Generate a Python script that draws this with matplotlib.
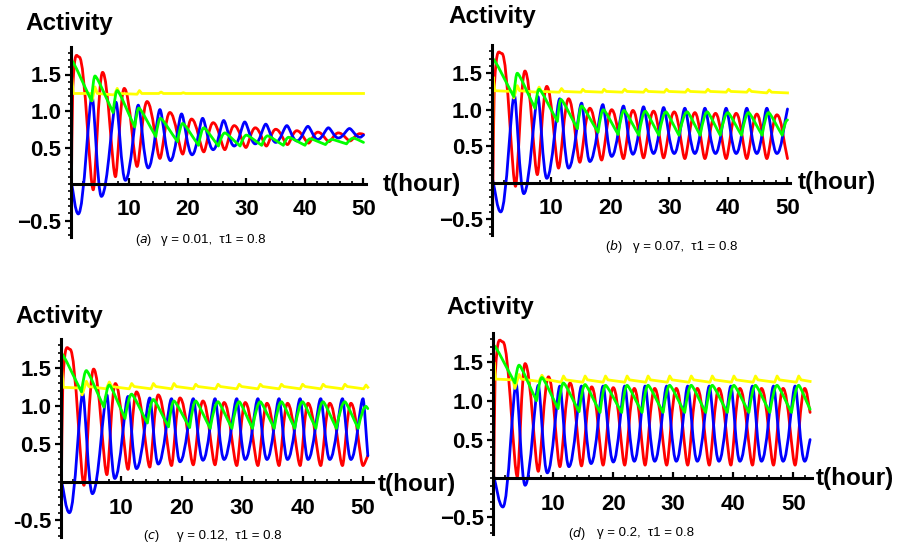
import matplotlib
matplotlib.use("Agg")
import matplotlib.pyplot as plt
from matplotlib.path import Path
from matplotlib.patches import PathPatch
from matplotlib.ticker import FixedLocator, MultipleLocator

plt.rcParams['font.family'] = ['Liberation Sans', 'DejaVu Sans']
plt.rcParams['mathtext.fontset'] = 'dejavusans'

# ---------------- data: (t, activity) turning points ----------------
# panel (a)  gamma = 0.01
red_a = [(0, -0.6), (0.3, 1.3), (1.4, 1.74), (3.8, -0.08), (5.4, 1.53), (7.6, 0.10), (9.1, 1.31),
         (11.3, 0.24), (13.0, 1.13), (15.2, 0.35), (16.9, 0.98), (19.1, 0.41), (20.6, 0.89),
         (22.7, 0.44), (24.3, 0.84), (26.3, 0.47), (27.9, 0.80), (29.9, 0.50), (31.5, 0.77),
         (33.4, 0.52), (35.0, 0.75), (37.0, 0.54), (38.6, 0.73), (40.6, 0.56), (42.2, 0.71),
         (44.1, 0.58), (45.7, 0.70), (47.7, 0.59), (49.4, 0.69), (50.0, 0.68)]
blue_a = [(0, 0.05), (1.25, -0.41), (3.6, 1.20), (5.2, -0.17), (7.7, 1.12), (9.3, 0.05), (11.5, 1.08),
          (13.2, 0.22), (15.2, 1.02), (17.0, 0.32), (18.9, 0.96), (20.7, 0.40), (22.5, 0.90),
          (24.3, 0.47), (26.1, 0.87), (27.9, 0.52), (29.7, 0.85), (31.5, 0.55), (33.3, 0.82),
          (35.0, 0.57), (36.9, 0.80), (38.6, 0.59), (40.5, 0.79), (42.2, 0.61), (44.0, 0.77),
          (45.7, 0.63), (47.6, 0.76), (49.4, 0.64), (50.0, 0.67)]
green_a = [(0, 1.70), (3.5, 1.14), (4.1, 1.48), (7.2, 0.98), (7.9, 1.28), (10.9, 0.78), (11.6, 1.04),
           (14.5, 0.65), (15.3, 0.90), (18.2, 0.58), (19.1, 0.83), (21.8, 0.53), (22.7, 0.77),
           (25.2, 0.52), (26.3, 0.70), (28.9, 0.52), (30.0, 0.67), (32.6, 0.53), (33.6, 0.66),
           (36.3, 0.53), (37.2, 0.64), (40.0, 0.53), (40.9, 0.62), (43.5, 0.54), (44.6, 0.61),
           (47.1, 0.55), (48.3, 0.63), (50.0, 0.57)]
yellow_a = [(0, 0.0), (0.1, 1.48), (0.4, 1.24), (3.3, 1.24), (3.6, 1.14), (4.1, 1.33), (4.5, 1.24),
            (7.4, 1.22), (7.9, 1.31), (8.3, 1.24), (11.3, 1.23), (11.7, 1.28), (12.1, 1.24),
            (15.0, 1.24), (15.4, 1.26), (15.8, 1.24), (18.8, 1.24), (19.2, 1.25), (19.6, 1.24),
            (50.0, 1.24)]

# panel (b)  gamma = 0.07
red_b = [(0, -0.6), (0.3, 1.3), (1.6, 1.77), (3.9, -0.05), (5.5, 1.53), (7.6, 0.11), (9.2, 1.32),
         (11.2, 0.20), (12.9, 1.15), (14.8, 0.28), (16.5, 1.02), (18.5, 0.31), (20.2, 1.00),
         (22.2, 0.33), (23.8, 0.99), (25.6, 0.34), (27.3, 0.98), (29.0, 0.34), (30.8, 0.97),
         (32.6, 0.33), (34.3, 0.96), (36.0, 0.33), (37.8, 0.95), (39.6, 0.33), (41.3, 0.95),
         (43.1, 0.33), (44.8, 0.94), (46.5, 0.33), (48.2, 0.93), (50.0, 0.33)]
blue_b = [(0, 0.05), (1.4, -0.40), (3.7, 1.20), (5.3, -0.15), (7.7, 1.18), (9.2, 0.06), (11.4, 1.15),
          (12.9, 0.20), (15.1, 1.09), (16.5, 0.29), (18.7, 1.07), (20.2, 0.36), (22.2, 1.05),
          (23.8, 0.39), (25.6, 1.04), (27.3, 0.40), (29.0, 1.03), (30.8, 0.40), (32.6, 1.02),
          (34.3, 0.40), (36.0, 1.02), (37.8, 0.40), (39.6, 1.02), (41.3, 0.40), (43.1, 1.02),
          (44.8, 0.40), (46.5, 1.02), (48.2, 0.40), (50.0, 1.01)]
green_b = [(0, 1.70), (3.6, 1.18), (4.2, 1.50), (7.2, 1.02), (7.9, 1.28), (11.0, 0.84), (11.6, 1.14),
           (14.4, 0.74), (15.1, 1.05), (17.9, 0.69), (18.8, 1.00), (21.3, 0.66), (22.3, 0.99),
           (24.8, 0.65), (25.9, 0.98), (28.2, 0.65), (29.4, 0.97), (31.6, 0.65), (33.0, 0.97),
           (35.2, 0.65), (36.4, 0.97), (38.6, 0.65), (39.9, 0.96), (42.2, 0.65), (43.4, 0.96),
           (45.7, 0.65), (46.8, 0.96), (49.1, 0.65), (50.0, 0.86)]
yellow_b = [(0, 0.0), (0.1, 1.45), (0.4, 1.26), (3.3, 1.25), (3.6, 1.16), (4.2, 1.33), (4.6, 1.26),
            (7.5, 1.24), (7.9, 1.31), (8.3, 1.25), (11.3, 1.24), (11.7, 1.29), (12.1, 1.25),
            (15.0, 1.24), (15.3, 1.28), (15.7, 1.25), (18.6, 1.24), (18.9, 1.28), (19.3, 1.25),
            (22.0, 1.24), (22.4, 1.28), (22.8, 1.25), (25.6, 1.24), (26.0, 1.28), (26.4, 1.25),
            (29.1, 1.24), (29.5, 1.28), (29.9, 1.25), (32.7, 1.24), (33.1, 1.28), (33.5, 1.25),
            (36.1, 1.24), (36.5, 1.28), (36.9, 1.25), (39.6, 1.24), (40.0, 1.28), (40.4, 1.25),
            (43.1, 1.24), (43.5, 1.28), (43.9, 1.25), (46.5, 1.23), (46.9, 1.27), (47.3, 1.24),
            (50.0, 1.23)]

# panel (c)  gamma = 0.12
red_c = [(0, -0.6), (0.3, 1.3), (1.5, 1.75), (3.8, -0.04), (5.4, 1.49), (7.6, 0.10), (9.0, 1.30),
         (11.1, 0.17), (12.5, 1.19), (14.7, 0.20), (16.1, 1.15), (18.3, 0.22), (19.7, 1.11),
         (21.9, 0.23), (23.5, 1.07), (25.5, 0.23), (27.0, 1.05), (29.1, 0.22), (30.5, 1.05),
         (32.6, 0.22), (34.1, 1.04), (36.1, 0.22), (37.5, 1.04), (39.6, 0.22), (40.9, 1.04),
         (43.0, 0.22), (44.5, 1.04), (46.6, 0.22), (48.0, 1.04), (50.0, 0.22), (50.8, 0.35)]
blue_c = [(0, 0.05), (1.4, -0.40), (3.6, 1.17), (5.2, -0.15), (7.6, 1.15), (8.9, 0.05), (11.1, 1.13),
          (12.5, 0.18), (14.7, 1.11), (16.1, 0.24), (18.3, 1.10), (19.7, 0.27), (21.9, 1.10),
          (23.5, 0.29), (25.5, 1.10), (27.0, 0.30), (29.1, 1.10), (30.5, 0.30), (32.6, 1.10),
          (34.1, 0.30), (36.1, 1.10), (37.5, 0.30), (39.6, 1.10), (40.9, 0.30), (43.0, 1.10),
          (44.5, 0.30), (46.6, 1.10), (48.0, 0.30), (50.0, 1.10), (50.8, 0.35)]
green_c = [(0, 1.70), (3.4, 1.19), (4.2, 1.47), (7.1, 0.99), (8.0, 1.28), (10.6, 0.84), (11.7, 1.16),
           (14.3, 0.78), (15.3, 1.09), (17.8, 0.73), (18.7, 1.07), (21.3, 0.72), (22.3, 1.07),
           (24.7, 0.71), (26.0, 1.06), (28.3, 0.71), (29.5, 1.06), (31.7, 0.71), (33.0, 1.06),
           (35.3, 0.71), (36.5, 1.06), (38.7, 0.71), (40.0, 1.06), (42.2, 0.71), (43.4, 1.06),
           (45.6, 0.71), (47.0, 1.06), (49.2, 0.71), (50.5, 1.00), (50.8, 0.97)]
yellow_c = [(0, 0.0), (0.1, 1.50), (0.4, 1.25), (3.2, 1.24), (3.5, 1.15), (4.2, 1.33), (4.6, 1.26),
            (7.5, 1.23), (8.0, 1.32), (8.4, 1.26), (11.3, 1.23), (11.7, 1.30), (12.1, 1.26),
            (14.9, 1.23), (15.3, 1.30), (15.7, 1.26), (18.3, 1.23), (18.7, 1.30), (19.1, 1.26),
            (21.9, 1.23), (22.3, 1.29), (22.7, 1.26), (25.6, 1.23), (26.0, 1.29), (26.4, 1.26),
            (29.1, 1.23), (29.5, 1.29), (29.9, 1.26), (32.6, 1.23), (33.0, 1.29), (33.4, 1.26),
            (36.1, 1.23), (36.5, 1.29), (36.9, 1.26), (39.6, 1.23), (40.0, 1.29), (40.4, 1.26),
            (43.0, 1.23), (43.4, 1.29), (43.8, 1.26), (46.6, 1.23), (47.0, 1.29), (47.4, 1.26),
            (50.1, 1.23), (50.5, 1.28), (50.8, 1.25)]

# panel (d)  gamma = 0.2
red_d = [(0, -0.6), (0.3, 1.3), (1.6, 1.76), (4.0, 0.02), (5.3, 1.48), (7.5, 0.09), (9.2, 1.31),
         (11.1, 0.15), (12.8, 1.23), (14.7, 0.16), (16.4, 1.18), (18.3, 0.17), (20.0, 1.17),
         (21.9, 0.17), (23.5, 1.16), (25.3, 0.17), (26.9, 1.16), (28.9, 0.17), (30.5, 1.16),
         (32.4, 0.17), (34.0, 1.16), (36.0, 0.17), (37.6, 1.16), (39.6, 0.17), (41.1, 1.16),
         (43.2, 0.17), (44.7, 1.16), (46.7, 0.17), (48.3, 1.16), (50.3, 0.17), (51.9, 1.16),
         (52.8, 0.85)]
blue_d = [(0, 0.05), (1.6, -0.37), (3.8, 1.22), (5.3, -0.09), (7.5, 1.20), (9.0, 0.07), (11.1, 1.19),
          (12.6, 0.15), (14.7, 1.19), (16.3, 0.19), (18.3, 1.19), (20.0, 0.21), (21.9, 1.19),
          (23.5, 0.22), (25.3, 1.19), (26.9, 0.22), (28.9, 1.19), (30.5, 0.22), (32.4, 1.19),
          (34.0, 0.22), (36.0, 1.19), (37.6, 0.22), (39.6, 1.19), (41.1, 0.22), (43.2, 1.19),
          (44.7, 0.22), (46.7, 1.19), (48.3, 0.22), (50.3, 1.19), (51.9, 0.22), (52.8, 0.50)]
green_d = [(0, 1.72), (3.6, 1.23), (4.3, 1.46), (7.2, 1.00), (8.1, 1.30), (10.8, 0.90), (11.7, 1.23),
           (14.3, 0.86), (15.3, 1.21), (17.8, 0.85), (18.7, 1.20), (21.4, 0.85), (22.3, 1.20),
           (24.8, 0.85), (25.8, 1.20), (28.3, 0.85), (29.4, 1.20), (31.9, 0.85), (33.0, 1.20),
           (35.4, 0.85), (36.5, 1.20), (39.0, 0.85), (40.1, 1.20), (42.6, 0.85), (43.7, 1.20),
           (46.1, 0.85), (47.3, 1.20), (49.7, 0.85), (50.9, 1.20), (52.8, 0.89)]
yellow_d = [(0, 0.0), (0.1, 1.50), (0.4, 1.28), (3.3, 1.27), (3.6, 1.16), (4.3, 1.34), (4.7, 1.28),
            (7.6, 1.25), (8.1, 1.33), (8.5, 1.28), (11.3, 1.24), (11.7, 1.32), (12.1, 1.27),
            (14.9, 1.24), (15.3, 1.32), (15.7, 1.27), (18.3, 1.24), (18.7, 1.32), (19.1, 1.27),
            (21.9, 1.24), (22.3, 1.32), (22.7, 1.27), (25.4, 1.24), (25.8, 1.32), (26.2, 1.27),
            (29.0, 1.24), (29.4, 1.32), (29.8, 1.27), (32.6, 1.24), (33.0, 1.32), (33.4, 1.27),
            (36.1, 1.24), (36.5, 1.32), (36.9, 1.27), (39.7, 1.24), (40.1, 1.32), (40.5, 1.27),
            (43.3, 1.24), (43.7, 1.32), (44.1, 1.27), (46.9, 1.24), (47.3, 1.32), (47.7, 1.27),
            (50.5, 1.24), (50.9, 1.32), (51.3, 1.27), (52.8, 1.25)]

x_ticks = [10, 20, 30, 40, 50]
y_ticks = [-0.5, 0.5, 1.0, 1.5]
panel_letters = ["a", "b", "c", "d"]
gamma_labels = ["0.01", "0.07", "0.12", "0.2"]
tau1_label = "0.8"

# ---------------- drawing helpers ----------------
W, H = 912, 546


def curve_path(pts, style, f_peak=1 / 3.0, f_trough=1 / 3.0):
    t = [p[0] for p in pts]
    y = [p[1] for p in pts]
    n = len(pts)
    m = []
    kind = []
    for i in range(n):
        if i == 0:
            m.append((y[1] - y[0]) / (t[1] - t[0]))
            kind.append("end")
        elif i == n - 1:
            m.append((y[-1] - y[-2]) / (t[-1] - t[-2]))
            kind.append("end")
        elif (y[i] - y[i - 1]) * (y[i + 1] - y[i]) <= 0:
            m.append(0.0)
            kind.append("peak" if y[i] > y[i - 1] else "trough")
        else:
            m.append((y[i + 1] - y[i - 1]) / (t[i + 1] - t[i - 1]))
            kind.append("mid")

    def fac(i):
        if kind[i] == "peak":
            return f_peak
        if kind[i] == "trough":
            return f_trough
        return 1 / 3.0

    verts = [(t[0], y[0])]
    codes = [Path.MOVETO]
    for i in range(n - 1):
        dx = t[i + 1] - t[i]
        if style == "smooth":
            h0, h1 = dx * fac(i), dx * fac(i + 1)
            s0, s1 = m[i], m[i + 1]
        else:  # saw-tooth shape: quick rounded rise, slow straight decline
            sec = (y[i + 1] - y[i]) / dx
            if sec < 0:
                h0, s0 = dx * 0.12, 0.0
                h1, s1 = dx / 3.0, sec
            else:
                h0, s0 = dx / 3.0, 1.6 * sec
                h1, s1 = dx / 3.0, 0.0
        verts += [(t[i] + h0, y[i] + s0 * h0), (t[i + 1] - h1, y[i + 1] - s1 * h1),
                  (t[i + 1], y[i + 1])]
        codes += [Path.CURVE4] * 3
    return Path(verts, codes)


fig = plt.figure(figsize=(W / 100, H / 100), dpi=100)

# pixel geometry of each panel: t=0 x, px per hour, x max, y=0 px, px per unit
geom = [
    (71.0, 5.85, 50.4, 184.0, 73.0),
    (492.5, 5.90, 50.4, 182.7, 73.0),
    (61.0, 6.04, 51.6, 482.3, 76.0),
    (493.3, 6.00, 53.1, 478.3, 77.5),
]
YMIN, YMAX = -0.72, 1.88
series = [
    (red_a, blue_a, green_a, yellow_a),
    (red_b, blue_b, green_b, yellow_b),
    (red_c, blue_c, green_c, yellow_c),
    (red_d, blue_d, green_d, yellow_d),
]
minus = ["\u22120.5", "\u22120.5", "-0.5", "\u22120.5"]
activity_pos = [(69, 30), (492, 23), (59, 323), (490, 314)]
thour_pos = [(383, 184), (798, 183), (378, 484), (816, 478)]
caption_pos = [(135, 161, 240), (605, 633, 247), (143, 177, 536), (568, 597, 533)]
LW = 2.0

for k in range(4):
    x0, sx, xmax, y0, sy = geom[k]
    left = x0
    right = x0 + xmax * sx
    top = y0 - YMAX * sy
    bottom = y0 - YMIN * sy
    ax = fig.add_axes([left / W, 1 - bottom / H, (right - left) / W, (bottom - top) / H])
    ax.set_xlim(0, xmax)
    ax.set_ylim(YMIN, YMAX)
    ax.patch.set_alpha(0)

    red, blue, green, yellow = series[k]
    ax.add_patch(PathPatch(curve_path(red, "smooth", 0.42, 0.24), facecolor="none",
                           edgecolor="#FF0000", lw=LW, capstyle="round", joinstyle="round",
                           zorder=2))
    ax.add_patch(PathPatch(curve_path(blue, "smooth", 0.24, 0.42), facecolor="none",
                           edgecolor="#0000FF", lw=LW, capstyle="round", joinstyle="round",
                           zorder=2.05))
    ax.plot([p[0] for p in yellow], [p[1] for p in yellow], color="#FFFF00", lw=LW,
            solid_joinstyle="round", zorder=2.1)
    ax.add_patch(PathPatch(curve_path(green, "saw"), facecolor="none", edgecolor="#00FF00",
                           lw=LW, capstyle="round", joinstyle="round", zorder=2.2))

    for s in ("top", "right"):
        ax.spines[s].set_visible(False)
    ax.spines["left"].set_position(("data", 0))
    ax.spines["bottom"].set_position(("data", 0))
    ax.spines["left"].set_linewidth(2.2)
    ax.spines["bottom"].set_linewidth(2.2)
    ax.spines["left"].set_zorder(3)
    ax.spines["bottom"].set_zorder(3)

    ax.xaxis.set_major_locator(FixedLocator(x_ticks))
    ax.xaxis.set_minor_locator(MultipleLocator(2))
    ax.yaxis.set_major_locator(FixedLocator(y_ticks))
    ax.yaxis.set_minor_locator(MultipleLocator(0.1))
    ax.set_xticklabels([str(v) for v in x_ticks])
    ax.set_yticklabels([minus[k], "0.5", "1.0", "1.5"])
    ax.tick_params(axis="x", which="major", direction="in", length=4, width=1.6, pad=11,
                   labelsize=16)
    ax.tick_params(axis="x", which="minor", direction="in", length=2.5, width=1.2)
    ax.tick_params(axis="y", which="major", direction="out", length=4, width=1.6, pad=3,
                   labelsize=16)
    ax.tick_params(axis="y", which="minor", direction="out", length=2.5, width=1.2)
    for lbl in ax.get_xticklabels() + ax.get_yticklabels():
        lbl.set_fontweight("bold")

    ax_x, ax_y = activity_pos[k]
    fig.text(ax_x / W, 1 - ax_y / H, "Activity", ha="center", va="baseline",
             fontsize=17.5, fontweight="bold")
    tx, ty = thour_pos[k]
    fig.text(tx / W, 1 - ty / H, "t(hour)", ha="left", va="center",
             fontsize=17.5, fontweight="bold")
    cx1, cx2, cy = caption_pos[k]
    fig.text(cx1 / W, 1 - cy / H, "($\\mathit{%s}$)" % panel_letters[k], ha="left",
             va="center", fontsize=9)
    fig.text(cx2 / W, 1 - cy / H,
             "\u03b3 = %s,  \u03c41 = %s" % (gamma_labels[k], tau1_label),
             ha="left", va="center", fontsize=9.5)

fig.savefig("out.png", dpi=100)
